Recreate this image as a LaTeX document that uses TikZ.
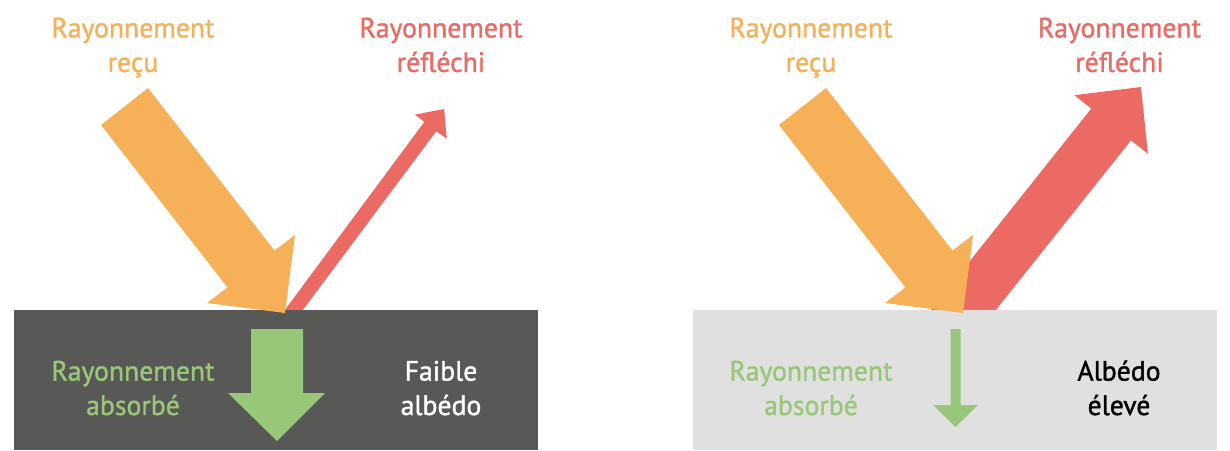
\documentclass[tikz,border=0pt]{standalone}
\usepackage{fontspec}
\setmainfont[FakeBold=1.2,FakeStretch=0.99]{PT Sans}
\definecolor{orangeA}{HTML}{F6B057}
\definecolor{redA}{HTML}{EC6A64}
\definecolor{greenA}{HTML}{98C77A}
\definecolor{darkA}{HTML}{585856}
\definecolor{lightA}{HTML}{E0E0E0}
\begin{document}
\begin{tikzpicture}[x=1pt,y=-1pt,
  lbl/.style={align=center, anchor=base, inner sep=0pt, font=\fontsize{28}{34.4}\selectfont},
  ground/.style={fill=#1, draw=none}]
\useasboundingbox (0,0) rectangle (1230,450);
% reflected rays (drawn below the ground)
\fill[redA] (277.4,320) -- (424.4,121.8) -- (414.8,114.6) -- (444,109) -- (446.8,138.6) -- (436.2,131.4) -- (295.4,320) -- cycle;
\fill[redA] (922.8,320) -- (1091.2,108.6) -- (1074.3,95.2) -- (1141,87) -- (1147.9,153.8) -- (1131,140.4) -- (987.9,320) -- cycle;
% grounds
\fill[ground=darkA] (14,310) rectangle (538,450);
\fill[ground=lightA] (693,310) rectangle (1217,450);
% incoming rays
\fill[orangeA] (101,125) -- (227.5,287.5) -- (207,303) -- (285,313) -- (295,235) -- (274.5,250.5) -- (148,88) -- cycle;
\fill[orangeA] (779,125) -- (905.5,287.5) -- (885,303) -- (963,313) -- (973,235) -- (952.5,250.5) -- (826,88) -- cycle;
% absorbed rays
\fill[greenA] (251,329) -- (303,329) -- (303,393) -- (325,393) -- (277,441) -- (228,393) -- (251,393) -- cycle;
\fill[greenA] (950.5,329) -- (960.5,329) -- (960.5,405) -- (978,405) -- (955.5,427) -- (933,405) -- (950.5,405) -- cycle;
% labels
\node[lbl, text=orangeA] (recuL) at (133,71.9) {Rayonnement\\reçu};
\node[lbl, text=redA] (reflL) at (441,71.9) {Rayonnement\\réfléchi};
\node[lbl, text=greenA] (absL) at (133,415) {Rayonnement\\absorbé};
\node[lbl, text=white] (albL) at (441,415) {Faible\\albédo};
\node[lbl, text=orangeA] (recuR) at (811,71.9) {Rayonnement\\reçu};
\node[lbl, text=redA] (reflR) at (1119.5,71.9) {Rayonnement\\réfléchi};
\node[lbl, text=greenA] (absR) at (811,415) {Rayonnement\\absorbé};
\node[lbl, text=black] (albR) at (1119,415) {Albédo\\élevé};
\end{tikzpicture}
\end{document}
